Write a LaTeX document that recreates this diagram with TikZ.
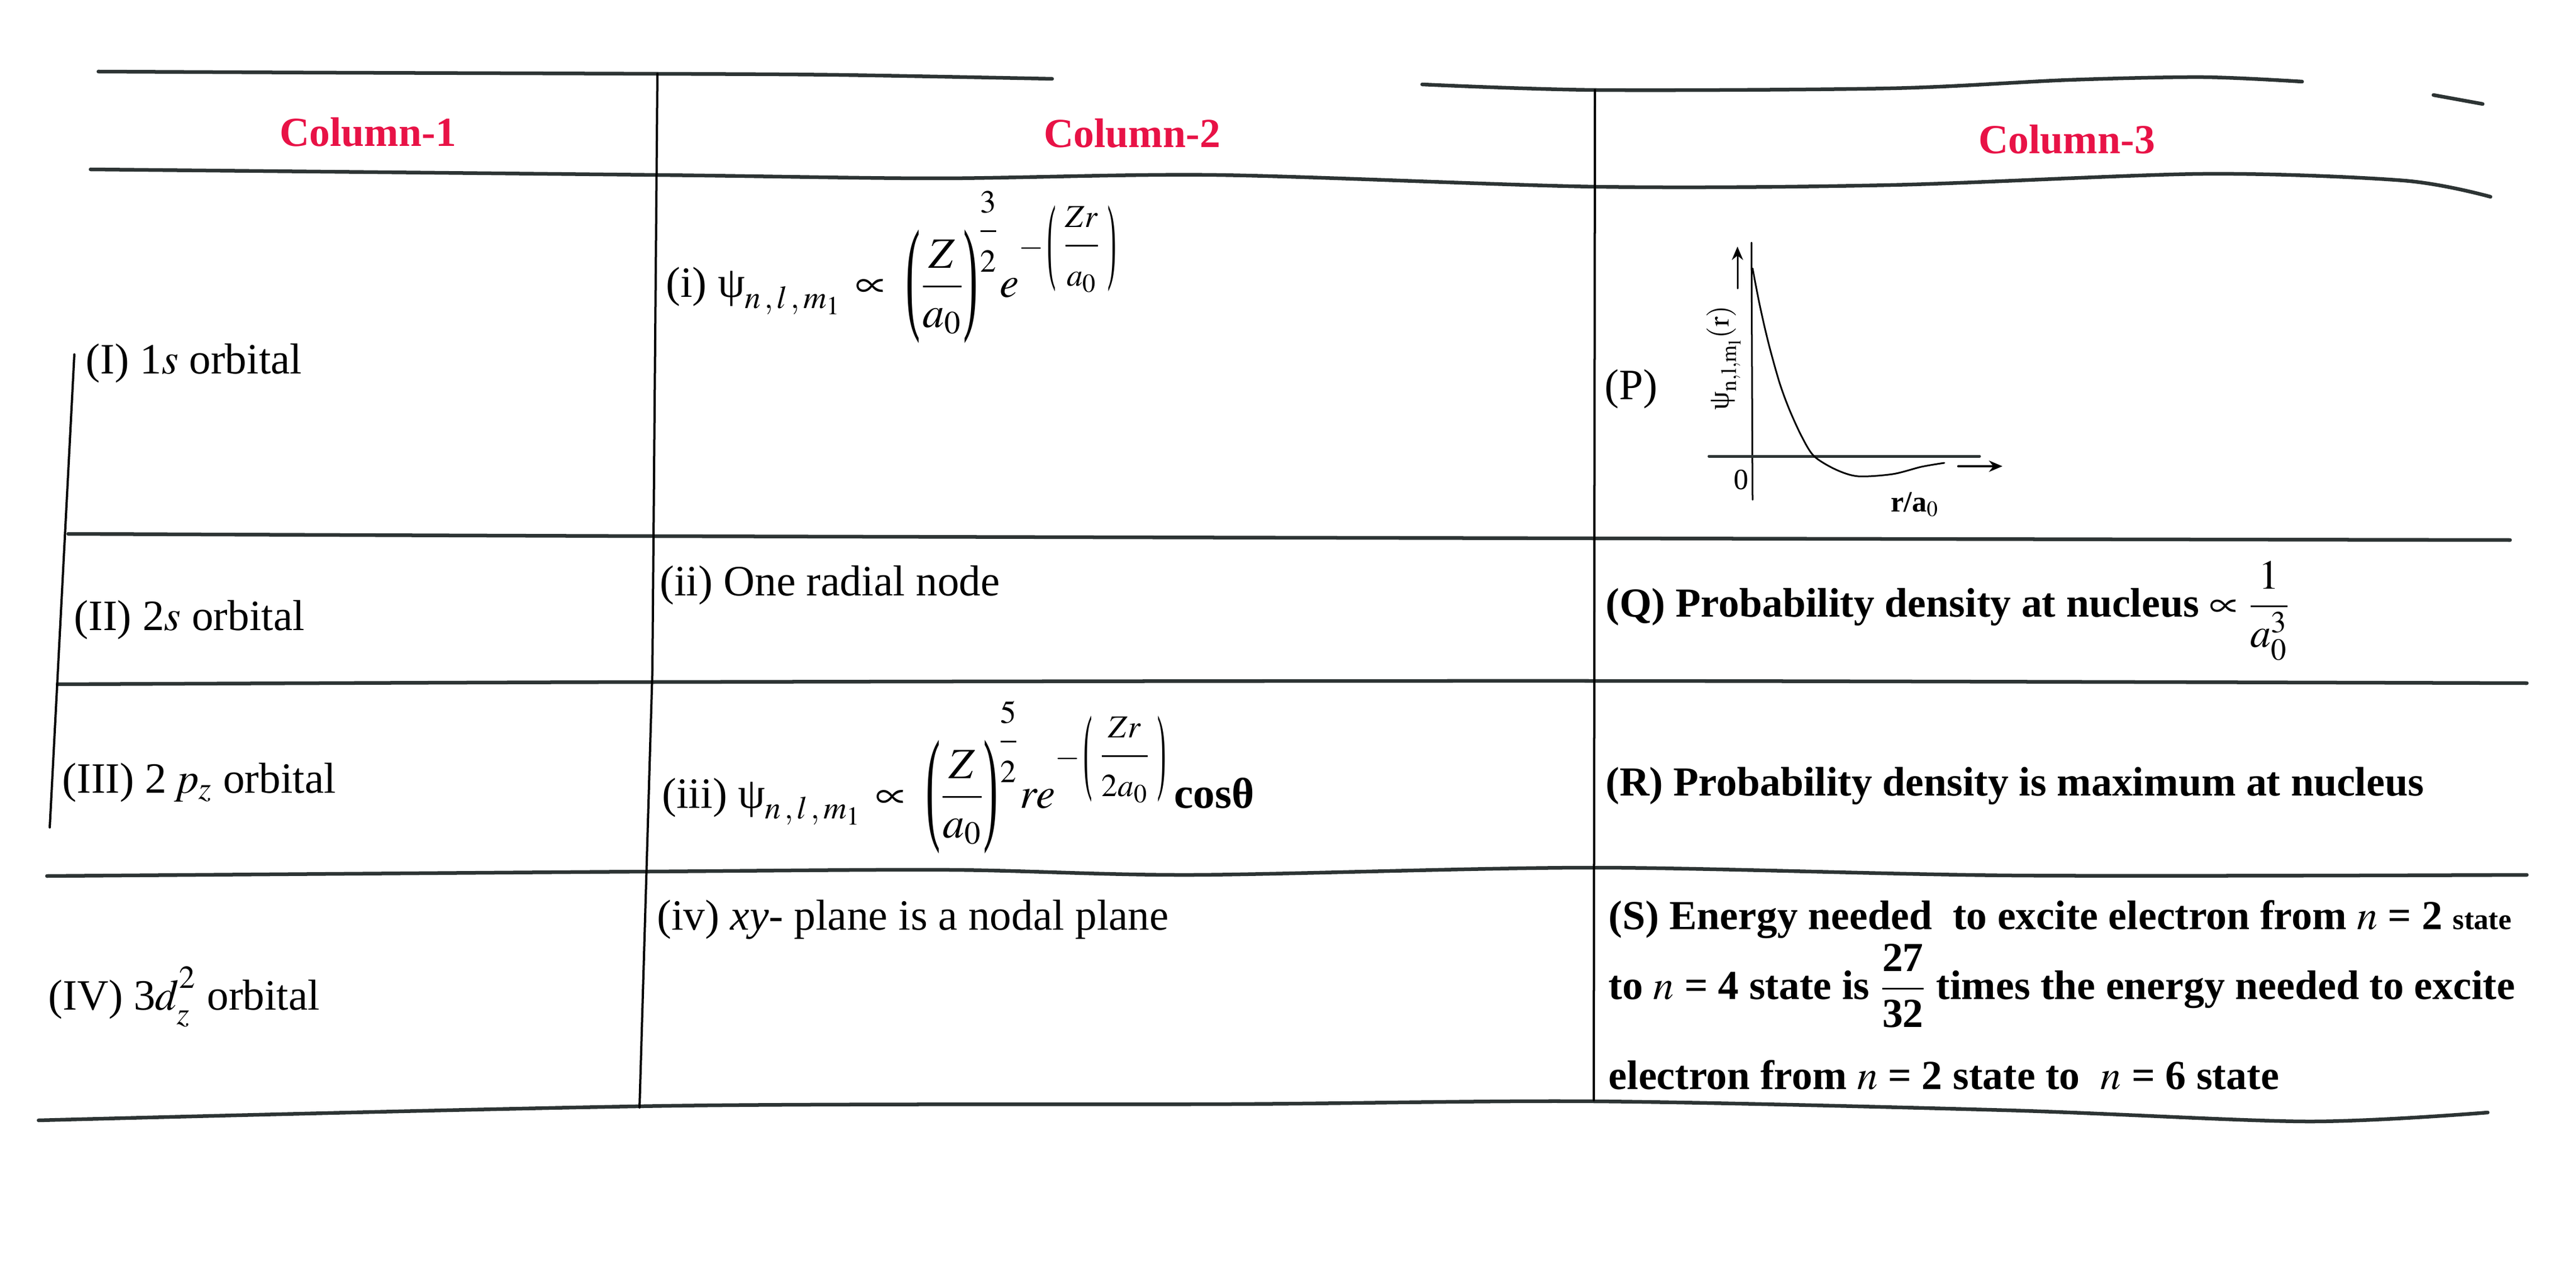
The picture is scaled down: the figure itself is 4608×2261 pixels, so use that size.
\documentclass[tikz,border=0pt]{standalone}
\usepackage{mathptmx}
\usepackage{amsmath}
\usepackage{graphicx}
\usepackage{fontspec}
\setmainfont{Liberation Serif}
\usetikzlibrary{arrows.meta}
\definecolor{headred}{RGB}{232,18,70}
\definecolor{rulegray}{RGB}{45,52,52}
\newcommand{\tallparen}[3]{\vcenter{\hbox{\scalebox{#2}[#3]{#1}}}}
\newcommand{\expfrac}[2]{\dfrac{\scriptstyle #1\rule[-4pt]{0pt}{4pt}}{\scriptstyle\rule{0pt}{13pt}#2}}
\begin{document}
\begin{tikzpicture}[x=0.01cm, y=-0.01cm, line join=round, line cap=round, >={Stealth[length=0.24cm,width=0.2cm]},
  every node/.style={inner sep=0pt, anchor=base west},
  celltext/.style={font=\fontsize{22}{26}\selectfont},
  boldtext/.style={font=\fontsize{21}{25}\selectfont\bfseries},
  colhead/.style={font=\fontsize{21}{25}\selectfont\bfseries, text=headred, anchor=center},
  smalltext/.style={font=\fontsize{15}{18}\selectfont, anchor=center},
  tabline/.style={rulegray, line width=0.065cm},
  colline/.style={black, line width=0.04cm}]
\fill[white] (0,0) rectangle (4608,2261);
% table rules
\draw[tabline] plot[smooth] coordinates {(176,128) (600,130) (1176,132) (1500,134) (1882,141)};
\draw[tabline] plot[smooth] coordinates {(2544,151) (2855,161) (3382,158) (3700,143) (3941,138) (4118,146)};
\draw[tabline] (4353,170) -- (4441,186);
\draw[tabline] plot[smooth] coordinates {(162,303) (1176,313) (1676,319) (2176,313) (2855,334) (3382,331) (3941,311) (4300,323) (4455,352)};
\draw[tabline] plot[smooth] coordinates {(122,955) (1170,959) (2851,963) (4490,966)};
\draw[tabline] plot[smooth] coordinates {(103,1224) (1167,1220) (2851,1218) (4520,1222)};
\draw[tabline] plot[smooth] coordinates {(84,1567) (1160,1559) (1700,1556) (2133,1565) (2851,1552) (3600,1566) (4520,1565)};
\draw[tabline] plot[smooth] coordinates {(69,2004) (1200,1978) (2200,1975) (2853,1970) (3590,1986) (4126,2006) (4450,1990)};
\draw[colline] (1176,132) -- (1167,1200) -- (1144,1981);
\draw[colline] (2853,161) -- (2851,1968);
\draw[colline] (133,634) -- (89,1480);
% headings
\node[colhead] (h1) at (658,236) {Column-1};
\node[colhead] (h2) at (2025,238) {Column-2};
\node[colhead] (h3) at (3697,249) {Column-3};
% column 1
\node[celltext] (o1) at (153,668) {(I) 1$s$ orbital};
\node[celltext] (o2) at (132,1127) {(II) 2$s$ orbital};
\node[celltext] (o3) at (111,1418) {(III) 2\,$p_z$ orbital};
\node[celltext] (o4) at (86,1806) {(IV) 3$d^{\raisebox{3pt}{$\scriptstyle 2$}}_{\raisebox{-2pt}{$\scriptstyle z$}}$ orbital};
% column 2
\node[celltext] (w1) at (1191,532) {(i) $\mbox{ψ}_{n\,,\,l\,,\,m_1}\,\propto\;\tallparen{(}{1}{2.9}\dfrac{Z}{a_0}{\tallparen{)}{1}{2.9}}^{\expfrac{3}{2}} e^{-\,\tallparen{(}{0.6}{2.2}\;\expfrac{Zr}{a_0}\;\tallparen{)}{0.6}{2.2}}$};
\node[celltext] (w2) at (1180,1065) {(ii) One radial node};
\node[celltext] (w3) at (1184,1445) {(iii) $\mbox{ψ}_{n\,,\,l\,,\,m_1}\,\propto\;\tallparen{(}{1}{2.9}\dfrac{Z}{a_0}{\tallparen{)}{1}{2.9}}^{\expfrac{5}{2}} re^{-\,\tallparen{(}{0.6}{2.2}\;\expfrac{Zr}{2a_0}\;\tallparen{)}{0.6}{2.2}}$\,\textbf{cosθ}};
\node[celltext] (w4) at (1175,1663) {(iv) \textit{xy}- plane is a nodal plane};
% column 3
\node[celltext] (p) at (2870,715) {(P)};
\draw[line width=0.03cm] (3133,434) -- (3135,894);
\draw[->, line width=0.03cm] (3108,516) -- (3108,441);
\draw[rulegray, line width=0.05cm] (3057,816) -- (3541,816);
\draw[->, line width=0.04cm] (3503,834) -- (3582,834);
\draw[line width=0.03cm] plot[smooth] coordinates {(3135,480) (3146,537) (3157,587) (3168,631) (3184,687) (3201,733) (3223,781) (3245,816) (3284,840) (3324,852) (3386,848) (3437,835) (3478,828)};
\node[smalltext, rotate=90] (psi) at (3083,640) {$\mbox{ψ}_{\mathrm{n,l,m_l}}(\mathrm{r})$};
\node[smalltext] (zero) at (3115,858) {0};
\node[smalltext, font=\fontsize{15}{18}\selectfont\bfseries] (ra) at (3425,902) {r/a$_0$};
\node[boldtext] (q) at (2872,1103) {(Q) Probability density at nucleus $\propto\dfrac{1}{a_0^3}$};
\node[boldtext] (r) at (2872,1423) {(R) Probability density is maximum at nucleus};
\node[boldtext] (s1) at (2877,1662) {(S) Energy needed\ \ to excite electron from $n$ = 2 {\fontsize{15}{18}\selectfont state}};
\node[boldtext] (s2) at (2877,1787) {to $n$ = 4 state is $\dfrac{\textbf{27}}{\textbf{32}}$ times the energy needed to excite};
\node[boldtext] (s3) at (2877,1948) {electron from $n$ = 2 state to\ \ $n$ = 6 state};
\end{tikzpicture}
\end{document}
